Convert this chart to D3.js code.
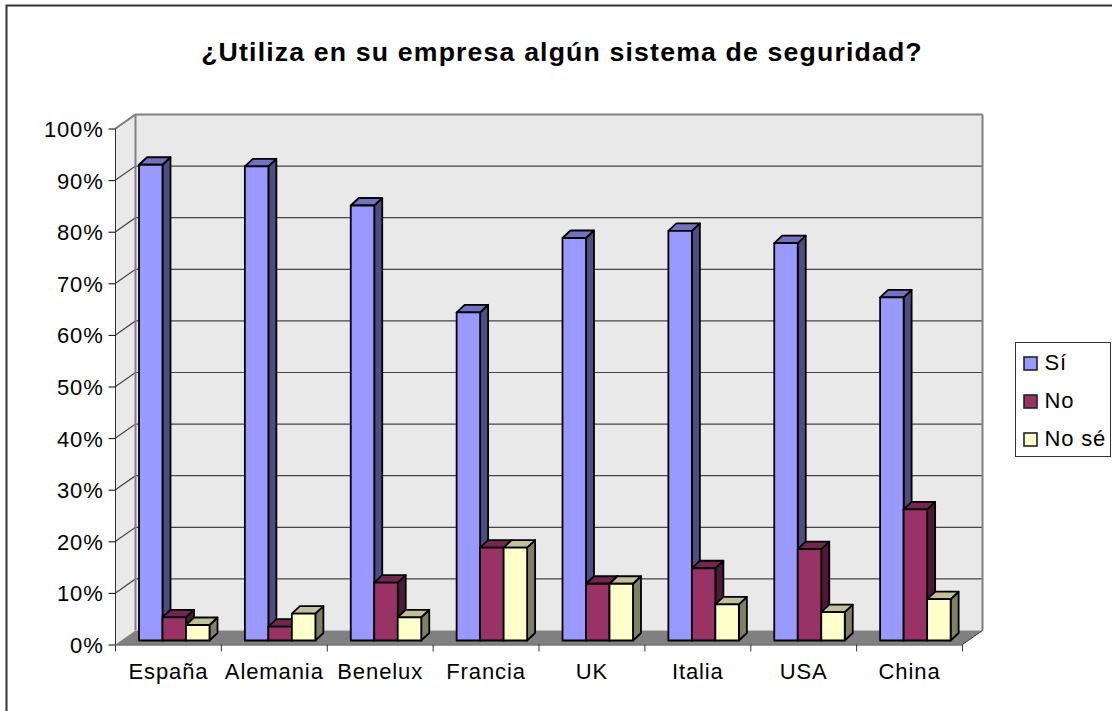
<!DOCTYPE html>
<html><head><meta charset="utf-8">
<script src="https://cdnjs.cloudflare.com/ajax/libs/d3/7.8.5/d3.min.js"></script>
<style>html,body{margin:0;padding:0;background:#fff}svg{display:block}text{font-family:"Liberation Sans",Arial,sans-serif;fill:#000}</style>
</head><body><svg id="c" width="1112" height="711"></svg>
<script>
const categories = ["España","Alemania","Benelux","Francia","UK","Italia","USA","China"];
const seriesNames = ["Sí","No","No sé"];
const si   = [92.2, 91.9, 84.3, 63.6, 78, 79.4, 77, 66.5];
const no   = [4.5, 2.7, 11.2, 18, 11, 14, 17.7, 25.4];
const nose = [3, 5.2, 4.5, 18, 11, 7, 5.5, 8];
const seriesValues = [si, no, nose];
const yTicks = [0,10,20,30,40,50,60,70,80,90,100];
const title = "¿Utiliza en su empresa algún sistema de seguridad?";
const fronts = ["#9999ff","#993366","#ffffcc"];
const tops   = ["#7272c0","#732650","#c0c09a"];
const sides  = ["#4d4d80","#4d1a33","#808066"];

const svg = d3.select("#c");
const x0 = 115.5, x1 = 962.5, dx = 20, dy = -14;
const y = d3.scaleLinear().domain([0,100]).range([644.5,128.5]);
const x = d3.scaleBand().domain(categories).range([x0,x1]);
const inner = d3.scaleBand().domain(d3.range(3)).range([23.5,94]);
const poly = pts => pts.map(p=>p.join(",")).join(" ");

// frame (only left and top edges fall inside the picture)
svg.append("path").attr("d","M6.5,711V5.5H1112").attr("fill","none").attr("stroke","#333").attr("stroke-width",2);

// title
svg.append("text").attr("x",562).attr("y",61).attr("text-anchor","middle")
  .attr("font-size",26.67).attr("font-weight","bold").attr("letter-spacing",1.16).text(title);

// walls and floor
svg.append("polygon").attr("points",poly([[x0+dx,y(100)+dy],[x1+dx,y(100)+dy],[x1+dx,y(0)+dy],[x0+dx,y(0)+dy]])).attr("fill","#e9e9e9");
svg.append("polygon").attr("points",poly([[x0,y(100)],[x0+dx,y(100)+dy],[x0+dx,y(0)+dy],[x0,y(0)]])).attr("fill","#e9e9e9");
svg.append("polygon").attr("points",poly([[x0,y(0)],[x0+dx,y(0)+dy],[x1+dx,y(0)+dy],[x1,y(0)]])).attr("fill","#808080");

// gridlines
yTicks.filter(t=>t>0).forEach(t=>{
  svg.append("polyline").attr("points",poly([[x0,y(t)],[x0+dx,y(t)+dy],[x1+dx,y(t)+dy]]))
    .attr("fill","none").attr("stroke",t==100?"#808080":"#444").attr("stroke-width",t==100?2:1.2);
});
svg.append("path").attr("d",`M${x0+dx},${y(100)+dy}V${y(0)+dy}M${x1+dx},${y(100)+dy}V${y(0)+dy}`).attr("stroke","#808080").attr("stroke-width",2).attr("fill","none");
svg.append("path").attr("d",`M${x0},${y(100)}L${x0+dx},${y(100)+dy}`).attr("stroke","#808080").attr("stroke-width",1.5);
svg.append("path").attr("d",`M${x1},${y(0)}L${x1+dx},${y(0)+dy}`).attr("stroke","#333").attr("stroke-width",1);

// bars: front plane sits slightly behind the axis plane
const by = -4, ox = 8, oy = -7.5;
categories.forEach((c,i)=>{
  seriesValues.forEach((vals,s)=>{
    const L = x(c)+inner(s), R = L+inner.bandwidth(), T = y(vals[i])+by, B = y(0)+by;
    const g = svg.append("g").attr("stroke","#000").attr("stroke-width",1.8).attr("stroke-linejoin","round");
    g.append("polygon").attr("points",poly([[R,T],[R+ox,T+oy],[R+ox,B+oy],[R,B]])).attr("fill",sides[s]);
    g.append("polygon").attr("points",poly([[L,T],[L+ox,T+oy],[R+ox,T+oy],[R,T]])).attr("fill",tops[s]);
    g.append("rect").attr("x",L).attr("y",T).attr("width",R-L).attr("height",B-T).attr("fill",fronts[s]);
  });
});

// axes
const yAxis = d3.axisLeft(y).tickValues(yTicks).tickFormat(d=>d+"%").tickSize(7).tickPadding(5);
const ya = svg.append("g").attr("transform",`translate(${x0},0)`).call(yAxis);
ya.selectAll("text").attr("font-size",22).attr("font-family",'"Liberation Sans"').attr("letter-spacing",0.8).attr("dy","0.36em").attr("fill","#000");
const xa = svg.append("g").attr("transform",`translate(0,${y(0)})`).call(
  d3.axisBottom(x).tickSize(0).tickPadding(19));
xa.selectAll("text").attr("font-size",22).attr("font-family",'"Liberation Sans"').attr("letter-spacing",0.9).attr("fill","#000");
xa.selectAll("text").attr("dy","0.71em");
[...categories.map(c=>x(c)),x1].forEach(v=>{
  svg.append("line").attr("x1",v).attr("x2",v).attr("y1",y(0)).attr("y2",y(0)+7).attr("stroke","#333");
});
svg.selectAll(".domain").attr("stroke","#333");
xa.select(".domain").attr("d",`M${x0},0.5H${x1}`);
ya.select(".domain").attr("d",`M0,${y(100)}V${y(0)}`);

// legend
const lg = svg.append("g");
lg.append("rect").attr("x",1015.5).attr("y",342.5).attr("width",95).attr("height",114).attr("fill","#fff").attr("stroke","#333");
seriesNames.forEach((n,i)=>{
  const ry = 357+38*i;
  lg.append("rect").attr("x",1024).attr("y",ry).attr("width",13).attr("height",13).attr("fill",fronts[i]).attr("stroke","#222").attr("stroke-width",1.6);
  lg.append("text").attr("x",1044.5).attr("y",ry+12.5).attr("font-size",22).attr("letter-spacing",0.8).text(n);
});
</script></body></html>
